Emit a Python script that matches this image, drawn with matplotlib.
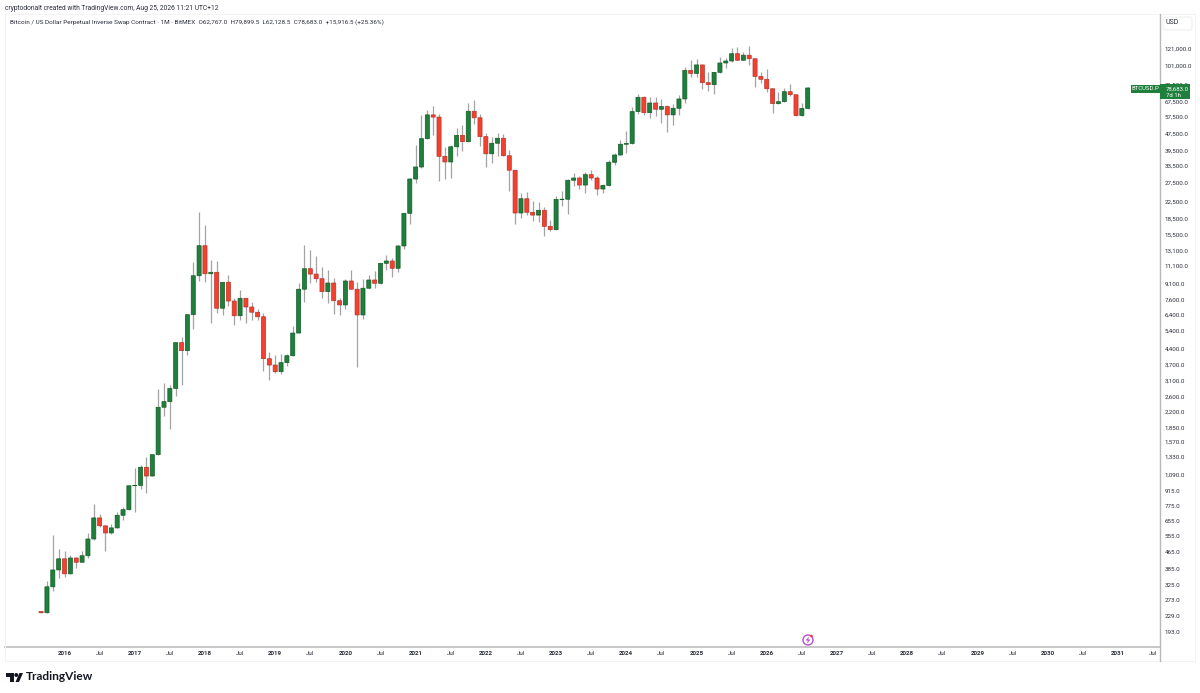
import numpy as np
import matplotlib
matplotlib.use("Agg")
import matplotlib.pyplot as plt
from matplotlib.patches import Rectangle, Circle, Polygon, FancyBboxPatch

plt.rcParams['font.family'] = ['Roboto', 'DejaVu Sans']

first_open = 241.5
closes = [238, 317, 382, 432, 366, 436, 416, 447, 538, 679, 622, 575,
          608, 699, 744, 969, 973, 1189, 1079, 1367, 2307, 2455, 2842, 4714,
          4313, 6420, 9872, 13760, 10090, 10257, 6893, 9185, 7467, 6345, 7693, 6988,
          6596, 6273, 3947, 3680, 3419, 3779, 4078, 5241, 8507, 10670, 10057, 9552,
          8280, 9110, 7490, 7150, 9316, 8507, 6400, 8600, 9420, 9081, 11327, 11620,
          10720, 13720, 19685, 28763, 32850, 44920, 58430, 57020, 36960, 34720, 41060, 46600,
          43460, 60830, 56600, 45930, 38000, 42700, 45140, 37200, 31700, 19750, 23130, 19910,
          19300, 20350, 17050, 16435, 22980, 23000, 28360, 29080, 26900, 30180, 29080, 25750,
          26800, 34600, 37500, 42240, 42600, 60600, 70970, 59900, 66630, 62180, 64050, 58430,
          62860, 69660, 95600, 92400, 101500, 83400, 81600, 93500, 103700, 106000, 114900, 106900,
          113000, 108700, 89400, 86600, 78000, 66200, 67600, 75500, 73000, 58000, 62767, 78683]
highs = [241.5, 338, 562, 482, 470, 451, 441, 473, 574, 792, 708, 628,
         633, 723, 767, 972, 1179, 1216, 1332, 1367, 2817, 3008, 2951, 4714,
         5000, 6420, 11456, 19970, 17300, 11710, 11620, 9185, 9950, 7740, 8440, 7693,
         7384, 6819, 6521, 4238, 4110, 4173, 4173, 5642, 9081, 13830, 13170, 12280,
         10870, 10520, 9627, 7693, 9524, 10520, 9185, 9495, 9950, 10404, 11409, 12434,
         11973, 13860, 19800, 28990, 41700, 58130, 61700, 64660, 58985, 41060, 41760, 50330,
         52390, 66420, 68900, 58860, 47620, 45630, 47760, 47100, 39470, 31700, 24550, 24990,
         22560, 22240, 21170, 18290, 23830, 25110, 28670, 30750, 29780, 31000, 31800, 29780,
         27200, 35420, 38350, 44450, 48700, 63740, 73500, 72000, 71430, 71400, 69430, 65100,
         66000, 72900, 98700, 107550, 108700, 101500, 94100, 94100, 110900, 109200, 122600, 123300,
         116700, 125100, 108700, 93500, 97000, 78000, 75200, 78400, 81900, 73000, 66420, 79899.5]
lows = [238, 237, 304, 350, 353, 366, 392, 416, 435, 532, 615, 472,
        569, 606, 662, 744, 728, 932, 892, 1079, 1367, 2095, 1821, 2615,
        2942, 4125, 5463, 9345, 9185, 5880, 6570, 6400, 7070, 5746, 6055, 5855,
        6075, 6055, 3436, 3132, 3360, 3332, 3642, 4078, 5241, 7407, 9081, 9241,
        7693, 7331, 6494, 6400, 6840, 8507, 3614, 6122, 8600, 8600, 9040, 10520,
        9769, 10330, 13230, 17485, 27426, 32400, 44920, 46780, 28050, 28670, 29080, 37200,
        39170, 43460, 53000, 41380, 32760, 34220, 37100, 37200, 25290, 17485, 18750, 19340,
        18090, 17950, 15360, 16260, 16435, 21260, 19460, 26690, 25750, 24630, 28450, 24140,
        24720, 26690, 33700, 37400, 38150, 42240, 59000, 58430, 56240, 57680, 53200, 48500,
        52390, 58430, 66420, 89000, 89000, 77800, 76000, 73500, 93100, 97700, 104500, 106900,
        106900, 101500, 79700, 83400, 75000, 59500, 65600, 67200, 72200, 58000, 57600, 62128.5]
opens = [first_open] + closes[:-1]

price_ticks = [121000, 101000, 81500, 67500, 57500, 47500, 39500, 33500, 27500, 22500, 18500,
               15500, 13100, 11100, 9100, 7600, 6400, 5400, 4400, 3700, 3100, 2600, 2200, 1850,
               1570, 1330, 1090, 915, 775, 655, 555, 465, 385, 325, 273, 229, 193]
years = [2016, 2017, 2018, 2019, 2020, 2021, 2022, 2023, 2024, 2025, 2026, 2027, 2028, 2029, 2030, 2031]
first_month = -4   # Sep 2015, counted from Jan 2016

W, H = 1200, 693
GREEN, GREEN_E = '#1f7f3c', '#135c28'
RED, RED_E = '#f5402f', '#b5342a'
WICK = '#a3a3a3'
LINE = '#c8c8c8'
TXT = '#2a2e39'

fig = plt.figure(figsize=(W / 100, H / 100), dpi=100, facecolor='white')

# main chart: pixel box x 5..1160, y 14..647
ax = fig.add_axes([5 / W, 1 - 647 / H, 1155 / W, 633 / H])
ax.set_yscale('log')
ax.set_xlim(-10.17, 187.2)
ax.set_ylim(163, 178200)

x = np.arange(len(closes)) + first_month
o, h, l, c = map(np.array, (opens, highs, lows, closes))
up = c >= o
ax.vlines(x, l, h, color=WICK, lw=0.9, zorder=2)
for mask, body, edge in ((up, GREEN, GREEN_E), (~up, RED, RED_E)):
    lo = np.minimum(o[mask], c[mask])
    hi = np.maximum(o[mask], c[mask])
    bars = ax.bar(x[mask], hi - lo, bottom=lo, width=0.7, color=body, edgecolor=edge, linewidth=0.5, zorder=3)
    for b in bars:
        b.set_snap(False)

ax.yaxis.tick_right()
ax.set_yticks(price_ticks)
ax.set_yticklabels([f'{p:,.1f}' for p in price_ticks], fontsize=4.5, color=TXT)
ax.minorticks_off()
ax.tick_params(axis='y', length=0, pad=3.6)

xt, xl = [], []
for y in years:
    xt += [(y - 2016) * 12, (y - 2016) * 12 + 6]
    xl += [str(y), 'Jul']
ax.set_xticks(xt)
ax.set_xticklabels(xl, fontsize=4.5, color=TXT)
for lab, s in zip(ax.get_xticklabels(), xl):
    lab.set_fontweight('bold' if s != 'Jul' else 'normal')
ax.tick_params(axis='x', length=0, pad=3.2)

for s in ('top', 'left', 'right'):
    ax.spines[s].set_visible(False)
ax.spines['bottom'].set_color(LINE)
ax.spines['bottom'].set_linewidth(1.4)

# overlay in pixel coordinates for furniture
ov = fig.add_axes([0, 0, 1, 1], facecolor='none')
ov.set_xlim(0, W)
ov.set_ylim(H, 0)
ov.axis('off')

ov.plot([5, 1195, 1195, 5, 5], [14, 14, 661, 661, 14], color='#f3f3f3', lw=0.7)
ov.plot([1160, 1160], [14, 661], color='#b8b8b8', lw=1.0)
ov.add_patch(FancyBboxPatch((1163, 17), 29, 13, boxstyle='round,pad=0,rounding_size=2',
                            fc='white', ec='#eeeeee', lw=0.7))
ov.text(1172.5, 23, 'USD', fontsize=5.0, color=TXT, ha='center', va='center')

ov.text(5, 8, 'cryptodonalt created with TradingView.com, Aug 25, 2026 11:21 UTC+12',
        fontsize=4.8, color=TXT, va='center')
ov.text(10, 22, 'Bitcoin / US Dollar Perpetual Inverse Swap Contract · 1M · BitMEX  '
                'O62,767.0  H79,899.5  L62,128.5  C78,683.0  +15,916.5 (+25.36%)',
        fontsize=4.6, color=TXT, va='center')

# last price tag
ov.add_patch(Rectangle((1131, 85), 28.5, 7.5, fc=GREEN, ec='none', zorder=5))
ov.text(1145, 88.8, 'BTCUSD.P', fontsize=4.3, color='white', ha='center', va='center', zorder=6)
ov.add_patch(Rectangle((1160, 84.3), 30, 15, fc=GREEN, ec='none', zorder=5))
ov.text(1165.5, 89.5, '78,683.0', fontsize=4.3, color='white', va='center', zorder=6)
ov.text(1165.5, 95.5, '7d 1h', fontsize=4.3, color='white', va='center', zorder=6)

# lightning badge
ov.add_patch(Circle((808, 640), 5, fc='white', ec='#b84fcf', lw=1.0, zorder=5))
ov.add_patch(Polygon([(809, 636.5), (805.5, 640.5), (807.8, 640.5), (807, 643.5), (810.5, 639.5), (808.2, 639.5)],
                     fc='#b84fcf', ec='none', zorder=6))
ov.add_patch(Circle((811.5, 636), 1.3, fc='#f23645', ec='none', zorder=7))

# TradingView logo
ov.add_patch(Polygon([(6, 673), (14, 673), (14, 682), (10, 682), (10, 677), (6, 677)], fc='#131722', ec='none'))
ov.add_patch(Circle((16.3, 675), 2.0, fc='#131722', ec='none'))
ov.add_patch(Polygon([(15.5, 682), (19.5, 673), (23, 673), (19, 682)], fc='#131722', ec='none'))
ov.text(26, 677, 'TradingView', fontsize=8.6, color='#131722', va='center', family=['Lato', 'DejaVu Sans'], weight='bold')

fig.savefig('out.png', dpi=100, facecolor='white')
